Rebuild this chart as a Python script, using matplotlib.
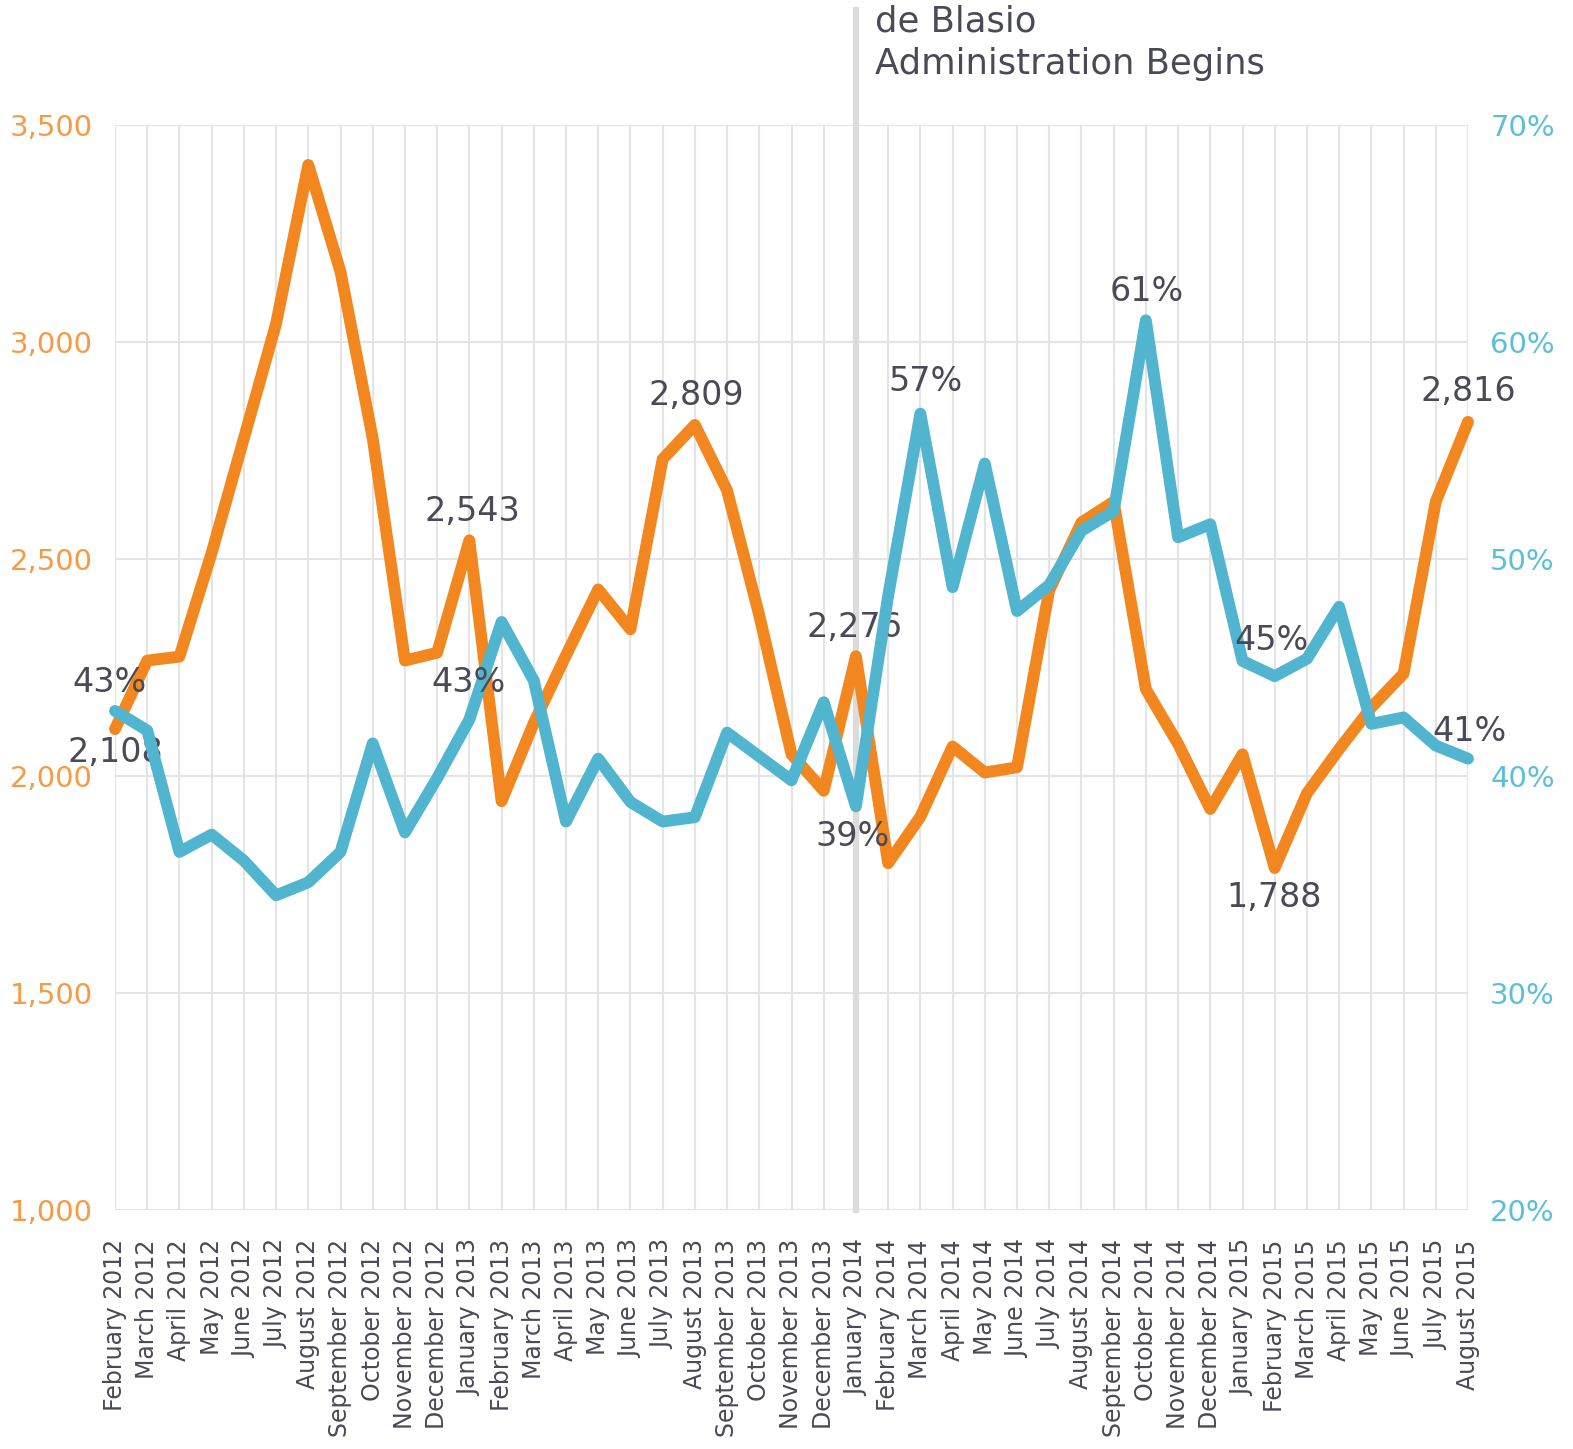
import numpy as np
import matplotlib.pyplot as plt

# month labels, Feb 2012 .. Aug 2015
months = ["February 2012", "March 2012", "April 2012", "May 2012", "June 2012",
          "July 2012", "August 2012", "September 2012", "October 2012",
          "November 2012", "December 2012", "January 2013", "February 2013",
          "March 2013", "April 2013", "May 2013", "June 2013", "July 2013",
          "August 2013", "September 2013", "October 2013", "November 2013",
          "December 2013", "January 2014", "February 2014", "March 2014",
          "April 2014", "May 2014", "June 2014", "July 2014", "August 2014",
          "September 2014", "October 2014", "November 2014", "December 2014",
          "January 2015", "February 2015", "March 2015", "April 2015",
          "May 2015", "June 2015", "July 2015", "August 2015"]

# orange series (left axis)
counts = [2108, 2266, 2275, 2514, 2778, 3042, 3408, 3162, 2778, 2266, 2284,
          2543, 1942, 2122, 2278, 2430, 2338, 2730, 2809, 2658, 2370, 2050,
          1966, 2276, 1799, 1906, 2068, 2008, 2020, 2428, 2584, 2632, 2200,
          2074, 1924, 2050, 1788, 1960, 2062, 2158, 2236, 2632, 2816]

# blue series (right axis, percent)
share = [43.0, 42.1, 36.5, 37.3, 36.1, 34.5, 35.1, 36.5, 41.5, 37.4, 39.9,
         42.6, 47.1, 44.4, 37.9, 40.8, 38.8, 37.9, 38.1, 42.0, 40.9, 39.8,
         43.4, 38.6, 48.3, 56.7, 48.7, 54.4, 47.6, 48.8, 51.3, 52.2, 61.0,
         51.0, 51.6, 45.3, 44.6, 45.4, 47.8, 42.4, 42.7, 41.4, 40.8]

left_ticks = [1000, 1500, 2000, 2500, 3000, 3500]
right_ticks = [20, 30, 40, 50, 60, 70]

# (series, month index, label, dx px, dy px)
notes = [("c", 0, "2,108", 0, 23), ("s", 0, "43%", -5, -28),
         ("c", 11, "2,543", 3, -29), ("s", 11, "43%", -1, -37),
         ("c", 18, "2,809", 1, -29), ("c", 23, "2,276", -1, -29),
         ("s", 23, "39%", -3, 30), ("s", 25, "57%", 5, -32),
         ("s", 32, "61%", 1, -29), ("s", 36, "45%", -3, -36),
         ("c", 36, "1,788", -1, 29), ("c", 42, "2,816", 0, -30),
         ("s", 42, "41%", 2, -27)]

orange = "#f2861f"
orange_txt = "#f79a45"
blue = "#52b5cf"
blue_txt = "#5cbfd9"
note_col = "#4a4a56"
grid_col = "#e4e4e4"

fig = plt.figure(figsize=(15.73, 14.49), dpi=100)
ax = fig.add_axes([115/1573, 1 - 1210/1449, (1468-115)/1573, (1210-125)/1449])
ax2 = ax.twinx()

x = np.arange(len(months))

ax.set_xlim(0, len(months) - 1)
ax.set_ylim(1000, 3500)
ax2.set_ylim(20, 70)

ax.set_xticks(x)
ax.set_xticklabels(months, rotation=90, fontsize=17, color=note_col)
ax.set_yticks(left_ticks)
ax.set_yticklabels([f"{v:,}" for v in left_ticks], fontsize=21, color=orange_txt)
ax2.set_yticks(right_ticks)
ax2.set_yticklabels([f"{v}%" for v in right_ticks], fontsize=21, color=blue_txt)
ax.tick_params(axis="x", length=0, pad=21)
ax.tick_params(axis="y", length=0, pad=16)
ax2.tick_params(axis="y", length=0, pad=16)

ax.grid(True, color=grid_col, linewidth=1.5)
ax.set_axisbelow(True)
for a in (ax, ax2):
    for s in a.spines.values():
        s.set_visible(False)

# administration marker
ax.axvline(23, ymin=0, ymax=(1210 - 10) / (1210 - 125), color="#dcdcdc",
           linewidth=4.5, clip_on=False, zorder=1)
fig.text(875/1573, 1 - 22/1449, "de Blasio", fontsize=25.5, color=note_col,
         va="center", ha="left")
fig.text(875/1573, 1 - 64/1449, "Administration Begins", fontsize=25.5,
         color=note_col, va="center", ha="left")

ax.plot(x, counts, color=orange, linewidth=8.5, solid_joinstyle="round",
        solid_capstyle="round", clip_on=False, zorder=3)
ax2.plot(x, share, color=blue, linewidth=8.5, solid_joinstyle="round",
         solid_capstyle="round", clip_on=False, zorder=3)

for ser, i, txt, dx, dy in notes:
    a = ax if ser == "c" else ax2
    yv = counts[i] if ser == "c" else share[i]
    a.annotate(txt, (i, yv), xytext=(dx * 0.72, -dy * 0.72),
               textcoords="offset points", ha="center", va="center",
               fontsize=24, color=note_col, zorder=5, annotation_clip=False)

fig.savefig("out.png", dpi=100)
